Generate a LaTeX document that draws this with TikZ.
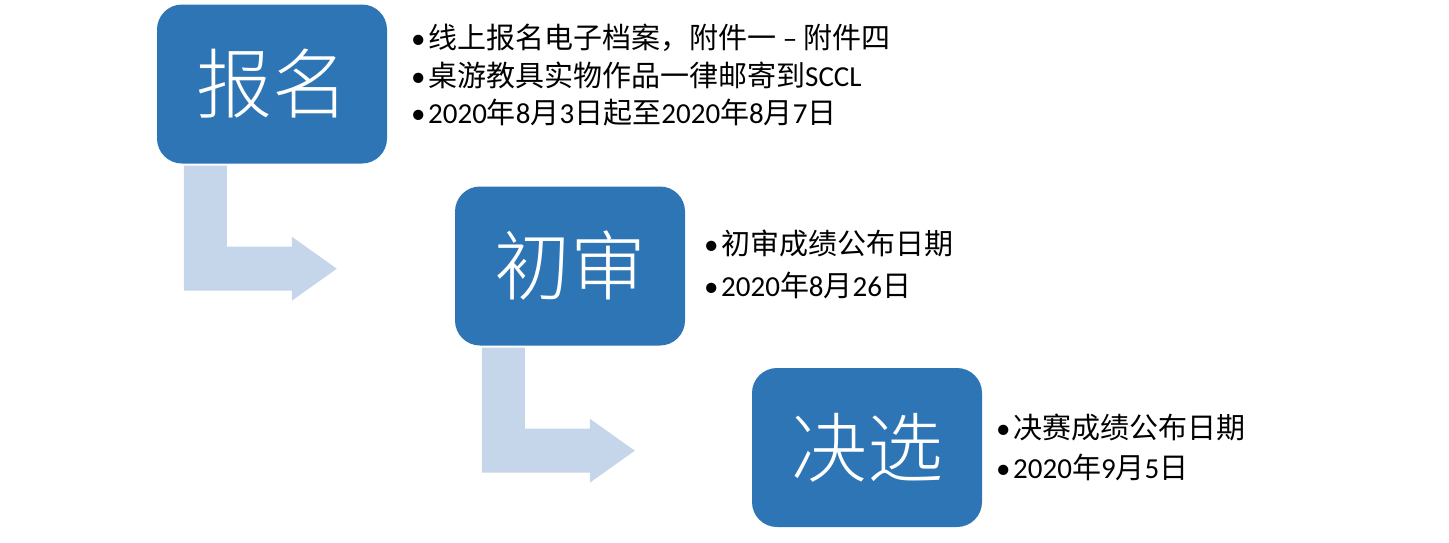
\documentclass[tikz,border=0pt]{standalone}
\usepackage{fontspec}
\setmainfont{Carlito}
\newfontfamily\cjk{Noto Sans CJK SC}
\newfontfamily\cjkl{Noto Sans CJK SC}[UprightFont={* Light}]
\definecolor{boxblue}{RGB}{46,117,182}
\definecolor{arrowblue}{RGB}{197,213,234}
\tikzset{
  stagebox/.style={fill=boxblue, draw=none, rounded corners=25pt, minimum width=230pt, minimum height=159pt, inner sep=0pt, text=white, font=\cjkl\fontsize{76}{76}\selectfont},
  bulletline/.style={anchor=base west, inner sep=0pt, text=black, font=\fontsize{29}{29}\selectfont},
  bentarrow/.style={fill=arrowblue, draw=none}
}
\newcommand{\bul}{\makebox[17pt][l]{•}}
\begin{document}
\begin{tikzpicture}[x=1pt,y=-1pt]
\useasboundingbox (0,0) rectangle (1449,542);
% stage boxes
\node[stagebox] (b1) at (272,84) {报名};
\node[stagebox] (b2) at (570,266) {初审};
\node[stagebox] (b3) at (867,447.5) {决选};
% bent arrows
\foreach \b in {b1,b2}{
  \begin{scope}[shift={(\b.south west)}]
    \fill[bentarrow] (27,2) -- (70,2) -- (70,83) -- (135,83) -- (135,73) -- (180,105) -- (135,137) -- (135,127) -- (27,127) -- cycle;
  \end{scope}
}
% text block 1
\node[bulletline] (t1a) at (411,48) {\bul{\cjk 线上报名电子档案，附件一} – {\cjk 附件四}};
\node[bulletline] (t1b) at (411,86) {\bul{\cjk 桌游教具实物作品一律邮寄到}SCCL};
\node[bulletline] (t1c) at (411,123) {\bul 2020{\cjk 年}8{\cjk 月}3{\cjk 日起至}2020{\cjk 年}8{\cjk 月}7{\cjk 日}};
% text block 2
\node[bulletline] (t2a) at (704,254) {\bul{\cjk 初审成绩公布日期}};
\node[bulletline] (t2b) at (704,296) {\bul 2020{\cjk 年}8{\cjk 月}26{\cjk 日}};
% text block 3
\node[bulletline] (t3a) at (996,438) {\bul{\cjk 决赛成绩公布日期}};
\node[bulletline] (t3b) at (996,478) {\bul 2020{\cjk 年}9{\cjk 月}5{\cjk 日}};
\end{tikzpicture}
\end{document}
